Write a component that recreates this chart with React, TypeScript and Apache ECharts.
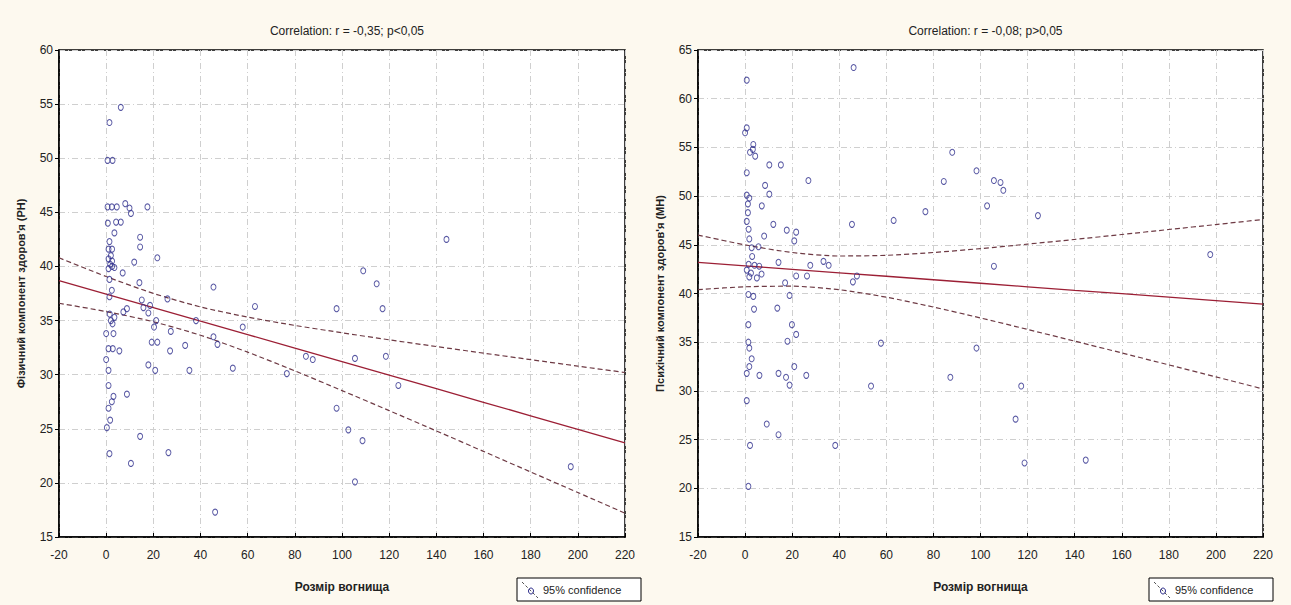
import React, { useEffect, useRef } from "react";
import * as echarts from "echarts";

// Shared x ticks (lesion size)
const xTicks = [-20, 0, 20, 40, 60, 80, 100, 120, 140, 160, 180, 200, 220];

// Physical health component (PH) vs lesion size
const leftSize = [
  6.2, 1.4, 0.6, 2.7, 0.6, 2.4, 4.5, 8.1, 9.9, 10.5, 17.5, 0.7, 4.2, 6.2, 3.5, 14.4, 14.4, 1.4, 1.0, 2.5,
  2.0, 1.0, 2.5, 1.7, 2.5, 1.0, 3.5, 11.9, 21.7, 7.0, 1.4, 14.1, 2.4, 1.4, 45.5, 15.1, 18.6, 26.0, 63.1, 8.8,
  7.3, 1.5, 3.5, 15.8, 17.9, 2.0, 2.7, 21.2, 20.3, 27.4, 38.1, 57.9, 45.5, 47.2, 0.0, 3.1, 19.3, 21.7, 33.5, 27.1,
  1.0, 2.8, 5.6, 0.0, 1.0, 17.9, 20.8, 35.3, 53.7, 1.0, 3.1, 2.4, 8.8, 1.0, 1.7, 0.3, 14.4, 1.4, 26.4, 10.5,
  46.2, 144.3, 109.0, 114.7, 97.7, 117.2, 84.7, 87.6, 105.5, 118.6, 76.6, 123.9, 97.7, 102.7, 108.7, 105.5, 197.0,
];
const leftPH = [
  54.7, 53.3, 49.8, 49.8, 45.5, 45.5, 45.5, 45.8, 45.4, 44.9, 45.5, 44.0, 44.1, 44.1, 43.1, 42.7, 41.8, 42.3, 41.6, 41.6,
  41.0, 40.7, 40.5, 40.2, 40.0, 39.8, 39.9, 40.4, 40.8, 39.4, 38.8, 38.5, 37.8, 37.2, 38.1, 36.9, 36.4, 37.0, 36.3, 36.1,
  35.8, 35.6, 35.3, 36.2, 35.7, 35.0, 34.7, 35.0, 34.4, 34.0, 35.0, 34.4, 33.5, 32.8, 33.8, 33.8, 33.0, 33.0, 32.7, 32.2,
  32.4, 32.4, 32.2, 31.4, 30.4, 30.9, 30.4, 30.4, 30.6, 29.0, 28.0, 27.5, 28.2, 26.9, 25.8, 25.1, 24.3, 22.7, 22.8, 21.8,
  17.3, 42.5, 39.6, 38.4, 36.1, 36.1, 31.7, 31.4, 31.5, 31.7, 30.1, 29.0, 26.9, 24.9, 23.9, 20.1, 21.5,
];
const leftFit = [38.7, 37.45, 36.2, 34.95, 33.7, 32.45, 31.2, 29.95, 28.7, 27.45, 26.2, 24.95, 23.7];
const leftUpper = [40.8, 39.07, 37.51, 36.26, 35.32, 34.55, 33.87, 33.22, 32.6, 31.99, 31.39, 30.79, 30.2];
const leftLower = [36.6, 35.83, 34.89, 33.64, 32.08, 30.35, 28.53, 26.68, 24.8, 22.91, 21.01, 19.11, 17.2];

// Mental health component (MH) vs lesion size
const rightSize = [
  46.1, 0.7, 0.7, 0.0, 3.5, 2.1, 4.3, 3.3, 10.3, 15.2, 0.7, 8.5, 10.3, 26.9, 0.7, 1.8, 7.1, 1.2, 1.2, 0.7,
  1.5, 1.8, 12.0, 17.7, 21.7, 20.9, 45.4, 63.1, 8.1, 2.8, 5.7, 3.0, 1.5, 4.0, 6.0, 0.7, 2.5, 1.8, 5.0, 7.0,
  14.2, 27.7, 33.3, 35.5, 21.7, 26.3, 17.0, 45.8, 47.5, 1.4, 3.5, 18.9, 3.8, 13.7, 1.4, 19.9, 21.7, 18.0, 1.4, 1.8,
  2.8, 1.8, 0.7, 57.7, 6.1, 14.2, 17.4, 18.9, 20.9, 26.0, 53.5, 0.7, 9.2, 14.2, 2.1, 38.3, 1.4, 88.0, 98.3, 84.4,
  105.7, 108.5, 109.7, 76.6, 102.8, 124.4, 197.6, 105.7, 98.3, 87.2, 117.3, 114.9, 118.7, 144.7,
];
const rightMH = [
  63.2, 61.9, 57.0, 56.5, 55.3, 54.5, 54.1, 54.8, 53.2, 53.2, 52.4, 51.1, 50.2, 51.6, 50.1, 49.8, 49.0, 49.2, 48.3, 47.4,
  46.6, 45.6, 47.1, 46.5, 46.3, 45.4, 47.1, 47.5, 45.9, 44.7, 44.8, 43.8, 43.0, 42.9, 42.8, 42.4, 42.1, 41.7, 41.6, 42.0,
  43.2, 42.9, 43.3, 42.9, 41.8, 41.8, 41.1, 41.2, 41.8, 39.9, 39.7, 39.8, 38.4, 38.5, 36.8, 36.8, 35.8, 35.1, 35.0, 34.4,
  33.3, 32.5, 31.8, 34.9, 31.6, 31.8, 31.4, 30.6, 32.5, 31.6, 30.5, 29.0, 26.6, 25.5, 24.4, 24.4, 20.2, 54.5, 52.6, 51.5,
  51.6, 51.4, 50.6, 48.4, 49.0, 48.0, 44.0, 42.8, 34.4, 31.4, 30.5, 27.1, 22.6, 22.9,
];
const rightFit = [43.2, 42.84, 42.48, 42.12, 41.77, 41.41, 41.05, 40.69, 40.33, 39.98, 39.62, 39.26, 38.9];
const rightUpper = [46.0, 44.99, 44.21, 43.85, 43.92, 44.21, 44.61, 45.07, 45.55, 46.06, 46.57, 47.08, 47.6];
const rightLower = [40.4, 40.69, 40.75, 40.39, 39.62, 38.61, 37.49, 36.31, 35.11, 33.9, 32.67, 31.44, 30.2];

const titles = ["Correlation: r = -0,35; p<0,05", "Correlation: r = -0,08; p>0,05"];
const yNames = ["Фізичний компонент здоров'я (PH)", "Психічний компонент здоров'я (MH)"];
const xName = "Розмір вогнища";
const legendText = "95% confidence";

const FONT = "'Liberation Sans Narrow', 'Arial Narrow', 'Liberation Sans', Arial, sans-serif";
const BG = "#fdf9ef";

const pairs = (xs: number[], ys: number[]) => xs.map((x, i) => [x, ys[i]]);

export default function App() {
  const ref = useRef<HTMLDivElement>(null);

  useEffect(() => {
    if (!ref.current) return;
    const chart = echarts.init(ref.current, undefined, { renderer: "svg" });

    const grids = [
      { left: 59, top: 50, width: 566, height: 487 },
      { left: 698, top: 50, width: 565, height: 487 },
    ];
    const yRanges = [
      [15, 60],
      [15, 65],
    ];

    const gridLine = { show: true, lineStyle: { color: "#cfcfcf", type: [6, 3, 1, 3] as any, width: 1 } };

    const xAxes = grids.map((_, i) => ({
      type: "value",
      gridIndex: i,
      min: -20,
      max: 220,
      interval: 20,
      name: xName,
      nameLocation: "middle",
      nameGap: 44,
      nameTextStyle: { fontFamily: FONT, fontSize: 12, fontWeight: "bold", color: "#222" },
      axisLine: { show: true, onZero: false, lineStyle: { color: "#000", width: 1.5 } },
      axisTick: { show: true, inside: true, length: 4, lineStyle: { color: "#000" } },
      axisLabel: { fontFamily: FONT, fontSize: 12, color: "#222", margin: 12 },
      splitLine: gridLine,
    }));

    const yAxes = grids.map((_, i) => ({
      type: "value",
      gridIndex: i,
      min: yRanges[i][0],
      max: yRanges[i][1],
      interval: 5,
      name: yNames[i],
      nameLocation: "middle",
      nameGap: 33,
      nameRotate: 90,
      nameTextStyle: { fontFamily: FONT, fontSize: 11, fontWeight: "bold", color: "#222" },
      axisLine: { show: true, onZero: false, lineStyle: { color: "#000", width: 1.5 } },
      axisTick: { show: true, length: 4, lineStyle: { color: "#000" } },
      axisLabel: { fontFamily: FONT, fontSize: 12, color: "#222", margin: 6 },
      splitLine: gridLine,
    }));

    const scatter = (i: number, xs: number[], ys: number[]) => ({
      type: "scatter",
      xAxisIndex: i,
      yAxisIndex: i,
      data: pairs(xs, ys),
      symbol: "circle",
      symbolSize: [5, 6],
      itemStyle: { color: "rgba(0,0,0,0)", borderColor: "#2e2e8c", borderWidth: 1 },
      z: 5,
    });
    const line = (i: number, ys: number[], dashed: boolean) => ({
      type: "line",
      xAxisIndex: i,
      yAxisIndex: i,
      data: pairs(xTicks, ys),
      smooth: dashed ? 0.25 : false,
      showSymbol: false,
      lineStyle: dashed
        ? { color: "#6e3a44", width: 1.2, type: [5, 3] }
        : { color: "#9c1f35", width: 1.3 },
      z: 3,
    });

    const legendBox = (x: number) => ({
      type: "group",
      x,
      y: 578,
      children: [
        { type: "rect", shape: { x: 0, y: 0, width: 124, height: 23 }, style: { fill: "#ffffff", stroke: "#000", lineWidth: 1 } },
        { type: "line", shape: { x1: 5, y1: 4, x2: 21, y2: 20 }, style: { stroke: "#555", lineWidth: 1, lineDash: [3, 2] } },
        { type: "ellipse", shape: { cx: 14, cy: 13, rx: 2.5, ry: 3 }, style: { fill: "none", stroke: "#2e2e8c", lineWidth: 1 } },
        { type: "text", x: 26, y: 6, style: { text: legendText, fontFamily: FONT, fontSize: 11, fill: "#222" } },
      ],
    });

    chart.setOption({
      animation: false,
      backgroundColor: BG,
      title: titles.map((t, i) => ({
        text: t,
        left: grids[i].left + grids[i].width / 2,
        top: 20,
        textAlign: "center",
        textStyle: { fontFamily: FONT, fontSize: 12, fontWeight: "normal", color: "#222" },
      })),
      grid: grids.map((g) => ({ ...g, show: true, backgroundColor: "#ffffff", borderColor: "#000", borderWidth: 1.5 })),
      xAxis: xAxes,
      yAxis: yAxes,
      series: [
        line(0, leftUpper, true),
        line(0, leftLower, true),
        line(0, leftFit, false),
        scatter(0, leftSize, leftPH),
        line(1, rightUpper, true),
        line(1, rightLower, true),
        line(1, rightFit, false),
        scatter(1, rightSize, rightMH),
      ],
      graphic: [legendBox(517), legendBox(1149)],
    });

    return () => chart.dispose();
  }, []);

  return (
    <div
      ref={ref}
      style={{ position: "fixed", left: 0, top: 0, width: 1291, height: 605, background: BG }}
    />
  );
}
